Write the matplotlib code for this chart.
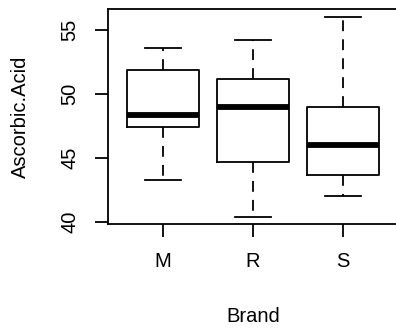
import matplotlib
matplotlib.use("Agg")
import matplotlib.pyplot as plt

brands = ["M", "R", "S"]
whislo = [43.3, 40.4, 42.0]
q1 = [47.4, 44.7, 43.7]
med = [48.35, 49.0, 46.0]
q3 = [51.9, 51.2, 49.0]
whishi = [53.6, 54.2, 56.0]
yticks = [40, 45, 50, 55]

plt.rcParams['font.family'] = ['Liberation Sans', 'DejaVu Sans']

fig = plt.figure(figsize=(3.96, 3.28), dpi=100)
W, H = 396, 328
left, right, bottom, top = 107.5, 398.5, 224, 9
ax = fig.add_axes([left / W, 1 - bottom / H, (right - left) / W, (bottom - top) / H])

stats = []
for i, b in enumerate(brands):
    stats.append(dict(label=b, whislo=whislo[i], q1=q1[i], med=med[i],
                      q3=q3[i], whishi=whishi[i], fliers=[]))

lw = 1.3
ax.bxp(stats, positions=[1, 2, 3], widths=0.8, showfliers=False,
       boxprops=dict(color='black', linewidth=lw),
       medianprops=dict(color='black', linewidth=4.2, solid_capstyle='butt'),
       whiskerprops=dict(color='black', linewidth=lw, linestyle=(0, (6, 4.5))),
       capprops=dict(color='black', linewidth=lw),
       capwidths=0.4)

ax.set_xlim(0.38, 3.62)
ax.set_ylim(39.84, 56.64)
ax.set_yticks(yticks)
ax.set_yticklabels([str(v) for v in yticks], rotation=90, va='center')
ax.set_xticks([1, 2, 3])
ax.set_xticklabels(brands)

fs = 14.5
for s in ax.spines.values():
    s.set_linewidth(lw)
ax.tick_params(axis='both', direction='out', length=9.4, width=lw, labelsize=fs)
ax.tick_params(axis='y', pad=11)
ax.tick_params(axis='x', pad=11)

ax.set_xlabel("Brand", fontsize=fs, labelpad=26)
ax.set_ylabel("Ascorbic.Acid", fontsize=fs, labelpad=22)

fig.savefig("out.png", dpi=100)
